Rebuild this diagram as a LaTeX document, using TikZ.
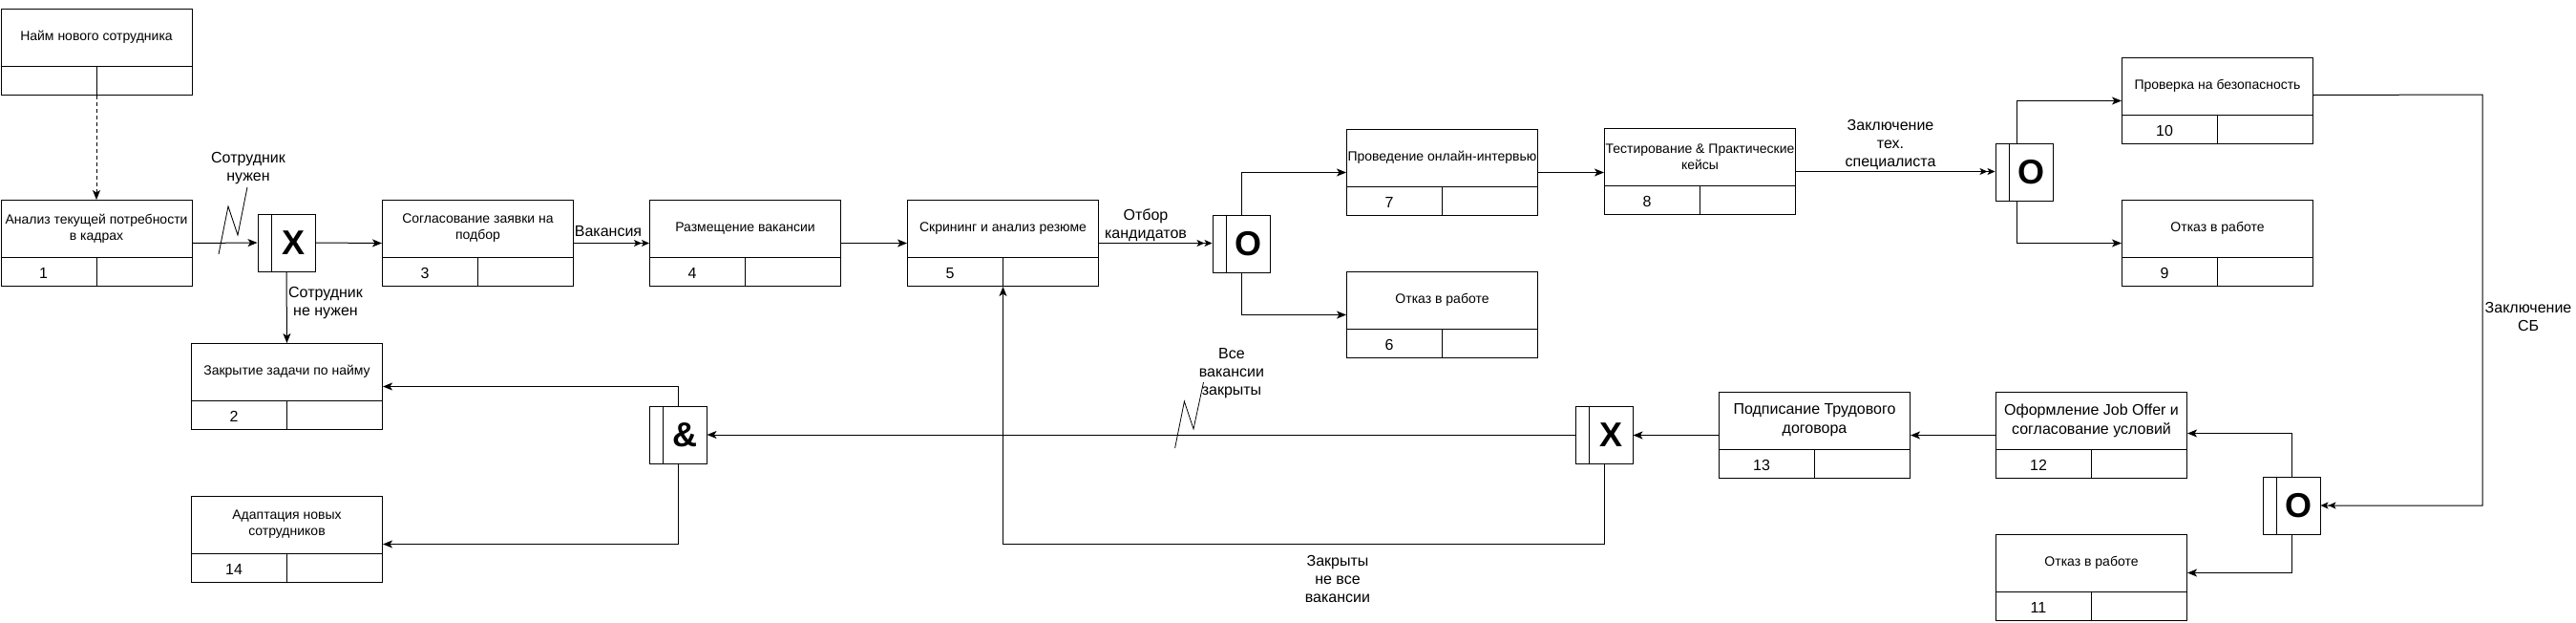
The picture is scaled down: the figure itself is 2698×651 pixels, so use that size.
\documentclass[tikz,border=0pt]{standalone}
\usepackage{fontspec}
\setmainfont{Liberation Sans}
\usetikzlibrary{arrows.meta,calc}
\tikzset{
  procbox/.style={draw, line width=1pt, minimum width=200pt, minimum height=90pt, inner sep=0pt, anchor=north west},
  gatebox/.style={draw, line width=1pt, minimum width=60pt, minimum height=60pt, inner sep=0pt},
  titletxt/.style={align=center, font=\fontsize{14}{17}\selectfont, inner sep=0pt},
  bigtitle/.style={align=center, font=\fontsize{16}{20}\selectfont, inner sep=0pt},
  numtxt/.style={font=\fontsize{16}{19}\selectfont, inner sep=0pt},
  gatetxt/.style={font=\bfseries\fontsize{36}{40}\selectfont, inner sep=0pt},
  lbl/.style={align=center, font=\fontsize{16}{19}\selectfont, inner sep=0pt},
  arr/.style={line width=1pt, -{Stealth[length=10pt,width=8pt,inset=2.5pt]}},
  darr/.style={line width=1pt, -{Stealth[length=8pt,width=7pt,inset=2pt]Stealth[length=8pt,width=7pt,inset=2pt]}},
  zig/.style={line width=0.8pt},
  dashline/.style={dash pattern=on 4pt off 3pt}
}
\newcommand{\mkproc}[6]{%
  \node[procbox] (#1) at (#2,#3) {};
  \draw[line width=1pt] ($(#1.north west)+(0,60)$) -- ($(#1.north east)+(0,60)$);
  \draw[line width=1pt] (#1.south) -- ($(#1.south)+(0,-30)$);
  \node[#4] (#1t) at ($(#1.north)+(0,30)$) {#5};
  \node[numtxt] (#1n) at ($(#1.south west)+(45,-14)$) {#6};
}
\newcommand{\mkgate}[4]{%
  \node[gatebox] (#1) at (#2,#3) {};
  \draw[line width=1pt] ($(#1.north west)+(15,0)$) -- ($(#1.south west)+(15,0)$);
  \node[gatetxt] (#1l) at ($(#1.center)+(7.5,0)$) {#4};
}
\begin{document}
\begin{tikzpicture}[x=1pt,y=-1pt]
\useasboundingbox[fill=white] (0,0) rectangle (2698,651);

% boxes
\mkproc{b0}{0.5}{9}{titletxt}{Найм нового сотрудника}{}
\mkproc{b1}{0.5}{209}{titletxt}{Анализ текущей потребности\\в кадрах}{1}
\mkproc{b3}{400}{209}{titletxt}{Согласование заявки на\\подбор}{3}
\mkproc{b4}{680}{209}{titletxt}{Размещение вакансии}{4}
\mkproc{b5}{950}{209}{titletxt}{Скрининг и анализ резюме}{5}
\mkproc{b7}{1410}{135}{titletxt}{Проведение онлайн-интервью}{7}
\mkproc{b6}{1410}{284}{titletxt}{Отказ в работе}{6}
\mkproc{b8}{1680}{134}{titletxt}{Тестирование \& Практические\\кейсы}{8}
\mkproc{b10}{2222}{60}{titletxt}{Проверка на безопасность}{10}
\mkproc{b9}{2222}{209}{titletxt}{Отказ в работе}{9}
\mkproc{b12}{2090}{410}{bigtitle}{Оформление Job Offer и\\согласование условий}{12}
\mkproc{b13}{1800}{410}{bigtitle}{Подписание Трудового\\договора}{13}
\mkproc{b2}{200}{359}{titletxt}{Закрытие задачи по найму}{2}
\mkproc{b14}{200}{519}{titletxt}{Адаптация новых\\сотрудников}{14}
\mkproc{b11}{2090}{559}{titletxt}{Отказ в работе}{11}

% gates
\mkgate{g1}{300}{254}{X}
\mkgate{g2}{1300}{255}{O}
\mkgate{g3}{2120}{180}{O}
\mkgate{g4}{2400}{529}{O}
\mkgate{g5}{1680}{455}{X}
\mkgate{g6}{710}{455}{\&}

% connectors
\draw[arr, dashline] (b0.south) -- (b1.north);
\draw[arr] (b1.east) -- (g1.west);
\draw[arr] (g1.east) -- (b3.west);
\draw[arr] (g1.south) -- (b2.north);
\draw[darr] (b3.east) -- (b4.west);
\draw[arr] (b4.east) -- (b5.west);
\draw[darr] (b5.east) -- (b5.east -| g2.west);
\draw[arr] (g2.north) |- (b7.west);
\draw[arr] (g2.south) |- (b6.west);
\draw[arr] (b7.east) -- (b7.east -| b8.west);
\draw[darr] (b8.east) -- (b8.east -| g3.west);
\coordinate (g3up) at ($(g3.north)+(-8,0)$);
\coordinate (g3dn) at ($(g3.south)+(-8,0)$);
\draw[arr] (g3up) |- (b10.west);
\draw[arr] (g3dn) |- (b9.west);
\coordinate (sbB) at (2600,99);
\draw[darr] ($(b10.east)+(0,-6)$) -- (sbB) |- (g4.east);
\draw[arr] (g4.north) |- ($(b12.east)+(0,-2)$);
\draw[arr] (g4.south) |- ($(b11.east)+(0,-5)$);
\draw[arr] (b12.west) -- (b13.east);
\draw[arr] (b13.west) -- (b13.west -| g5.east);
\draw[arr] (g5.west) -- (g6.east);
\draw[arr] (g5.south) -- ++(0,84) -| (b5.south);
\draw[arr] (g6.north) |- (b2.east);
\draw[arr] (g6.south) |- ($(b14.east)+(0,5)$);

% zigzags
\draw[zig] (229,266) -- (239,216) -- (249,246) -- (259,196);
\draw[zig] (1230.6,469) -- (1240.4,420) -- (1250,449) -- (1260.5,400);

% labels
\node[lbl] (l1) at (260,176) {Сотрудник\\нужен};
\node[lbl] (l2) at (341,317) {Сотрудник\\не нужен};
\node[lbl] (l3) at (637,242) {Вакансия};
\node[lbl] (l4) at (1200,236) {Отбор\\кандидатов};
\node[lbl] (l5) at (1980,152) {Заключение\\тех.\\специалиста};
\node[lbl] (l6) at (2648,331) {Заключение\\СБ};
\node[lbl] (l7) at (1290,391) {Все\\вакансии\\закрыты};
\node[lbl] (l8) at (1401,606) {Закрыты\\не все\\вакансии};
\end{tikzpicture}
\end{document}
